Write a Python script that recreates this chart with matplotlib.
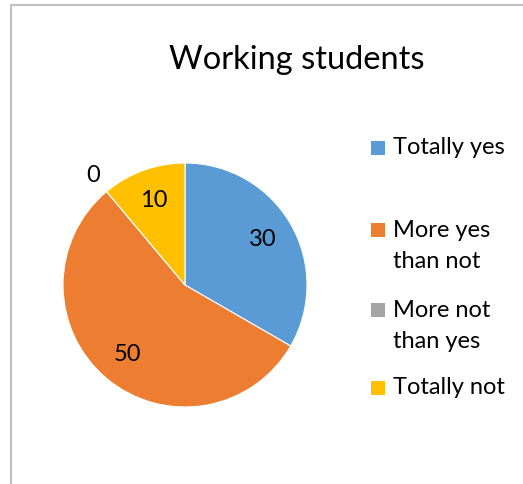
import numpy as np
import matplotlib
matplotlib.use("Agg")
import matplotlib.pyplot as plt
from matplotlib.patches import Rectangle
from matplotlib.lines import Line2D

plt.rcParams['font.family'] = ['Lato', 'DejaVu Sans']

categories = ['Totally yes', 'More yes\nthan not', 'More not\nthan yes', 'Totally not']
values = [30, 50, 0, 10]
colors = ['#5B9BD5', '#ED7D31', '#A5A5A5', '#FFC000']

W, H = 523, 484
fig = plt.figure(figsize=(W / 100, H / 100), dpi=100)

# chart frame (left and top edges visible)
fig.add_artist(Line2D([11 / W, 11 / W], [0, 1 - 5 / H], color='#BFBFBF', lw=1.5))
fig.add_artist(Line2D([11 / W, 1], [1 - 5 / H, 1 - 5 / H], color='#BFBFBF', lw=1.5))

fig.text(297 / W, 1 - 60 / H, 'Working students', ha='center', va='center', fontsize=23.5)

cx, cy, r = 185, 285, 122
ax = fig.add_axes([(cx - r) / W, 1 - (cy + r) / H, 2 * r / W, 2 * r / H])
wedges, _ = ax.pie(values, colors=colors, startangle=90, counterclock=False,
                   wedgeprops=dict(edgecolor='white', linewidth=0.8))
ax.set_xlim(-1, 1)
ax.set_ylim(-1, 1)
ax.set_aspect('equal')

for w, v in zip(wedges, values):
    ang = np.deg2rad((w.theta1 + w.theta2) / 2)
    d = 0.74 if v > 0 else 1.17
    ax.text(d * np.cos(ang), d * np.sin(ang), str(v), ha='center', va='center',
            fontsize=17)

# legend
rows = [148, 246, 326, 388]
for label, color, y in zip(categories, colors, rows):
    nlines = label.count('\n') + 1
    ytop = y - 16 * (nlines - 1)
    fig.add_artist(Rectangle((371 / W, 1 - (ytop + 7) / H), 14 / W, 14 / H,
                             facecolor=color, edgecolor='none'))
    fig.text(393 / W, 1 - y / H, label, ha='left', va='center', fontsize=17,
             linespacing=1.55)

fig.savefig('out.png', dpi=100)
